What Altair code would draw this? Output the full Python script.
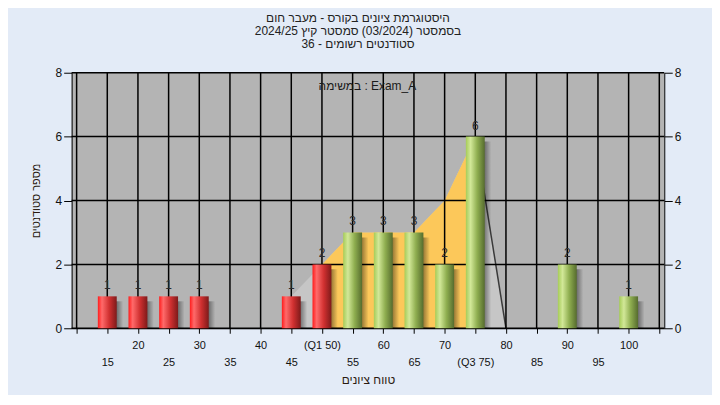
import altair as alt
import pandas as pd

# ---- data ----
grades = [15, 20, 25, 30, 35, 40, 45, 50, 55, 60, 65, 70, 75, 80, 85, 90, 95, 100]
counts = [1, 1, 1, 1, 0, 0, 1, 2, 3, 3, 3, 2, 6, 0, 0, 2, 0, 1]
tick_labels = ["15", "20", "25", "30", "35", "40", "45", "(Q1 50)", "55", "60",
               "65", "70", "(Q3 75)", "80", "85", "90", "95", "100"]
curve_x = [45, 50, 55, 60, 65, 70, 75, 80]
curve_y = [1, 2, 3, 3, 3, 4, 6, 0]
iqr_x = [50, 55, 60, 65, 70, 75]
iqr_y = [2, 3, 3, 3, 4, 6]
grid_x = [10, 15, 20, 25, 30, 35, 40, 45, 50, 55, 60, 65, 70, 75, 80, 85, 90, 95, 100, 105]
grid_y = [0, 2, 4, 6, 8]
q1, q3 = 50, 75

title_lines = ["היסטוגרמת ציונים בקורס - מעבר חום",
               "בסמסטר  (03/2024)  סמסטר קיץ 2024/25",
               "סטודנטים רשומים - 36"]
note_text = "במשימה : Exam_A"
x_title = "טווח ציונים"
y_title = "מספר סטודנטים"

FONT = "Liberation Sans, DejaVu Sans, sans-serif"

bars_df = pd.DataFrame({"grade": grades, "count": counts})
bars_df = bars_df[bars_df["count"] > 0].copy()
bars_df["grp"] = ["low" if g <= q1 else "high" for g in bars_df["grade"]]
bars_df["base"] = 0
curve_df = pd.DataFrame({"grade": curve_x, "count": curve_y})
iqr_df = pd.DataFrame({"grade": iqr_x, "count": iqr_y})
drop_df = curve_df[curve_df["grade"] >= q3]
gx_df = pd.DataFrame({"v": grid_x})
gy_df = pd.DataFrame({"v": grid_y})

# label expression
parts = [f"datum.value == {g} ? '{lab}'" for g, lab in zip(grades, tick_labels)]
label_expr = " : ".join(parts) + " : ''"
lower_row_test = " || ".join(f"datum.value == {g}" for g in grades[0::2])

xscale = alt.Scale(domain=[10, 105], nice=False, zero=False)
yscale = alt.Scale(domain=[0, 8], nice=False)

x_axis = alt.Axis(values=grid_x, labelExpr=label_expr, grid=False, tickSize=5,
                  tickColor="black", domainColor="black", labelFont=FONT,
                  labelFontSize=11, labelColor="#111",
                  labelPadding={"condition": {"test": lower_row_test, "value": 23},
                                "value": 6},
                  labelBaseline="top", labelFlush=False,
                  labelOverlap=False, title=x_title, titleFont=FONT,
                  titleFontSize=12, titleFontWeight="normal", titleColor="#2a1a10",
                  titlePadding=8)

y_left = alt.Axis(values=grid_y, grid=False, tickSize=8, tickColor="black",
                  domainColor="black", labelFont=FONT, labelFontSize=12,
                  labelColor="#111", labelPadding=2, title=y_title, titleFont=FONT,
                  titleFontSize=11, titleFontWeight="normal", titleColor="#2a1a10",
                  titlePadding=14)
y_right = alt.Axis(values=grid_y, grid=False, tickSize=8, tickColor="black",
                   domainColor="black", labelFont=FONT, labelFontSize=12,
                   labelColor="#111", labelPadding=2, orient="right", title=None)


def X(field):
    return alt.X(field, scale=xscale, axis=x_axis)


# areas
gray_area = alt.Chart(curve_df).mark_area(color="#c6c6c6", opacity=1).encode(
    x=X("grade:Q"),
    y=alt.Y("count:Q", scale=yscale, axis=y_right),
)
yellow_area = alt.Chart(iqr_df).mark_area(color="#fcc85a", opacity=1).encode(
    x=X("grade:Q"),
    y=alt.Y("count:Q", scale=yscale, axis=None),
)
drop_line = alt.Chart(drop_df).mark_line(color="#3a3a3a", strokeWidth=1.5).encode(
    x=X("grade:Q"),
    y=alt.Y("count:Q", scale=yscale, axis=None),
)

# grid lines
vgrid = alt.Chart(gx_df).mark_rule(color="black", strokeWidth=1.5).encode(
    x=X("v:Q"),
)
hgrid = alt.Chart(gy_df).mark_rule(color="black", strokeWidth=1.5).encode(
    y=alt.Y("v:Q", scale=yscale, axis=None),
)

red_grad = alt.Gradient(
    gradient="linear", x1=0, x2=1, y1=0, y2=0,
    stops=[alt.GradientStop(color="#ff1c1c", offset=0),
           alt.GradientStop(color="#ff6a6a", offset=0.22),
           alt.GradientStop(color="#d03030", offset=0.6),
           alt.GradientStop(color="#7e1a1a", offset=1)])
green_grad = alt.Gradient(
    gradient="linear", x1=0, x2=1, y1=0, y2=0,
    stops=[alt.GradientStop(color="#a6cc58", offset=0),
           alt.GradientStop(color="#d2e898", offset=0.25),
           alt.GradientStop(color="#8fae50", offset=0.6),
           alt.GradientStop(color="#566c2e", offset=1)])
shadow_grad = alt.Gradient(
    gradient="linear", x1=0, x2=1, y1=0, y2=0,
    stops=[alt.GradientStop(color="rgba(0,0,0,0.6)", offset=0.5),
           alt.GradientStop(color="rgba(0,0,0,0.0)", offset=1)])

shadow = alt.Chart(bars_df).mark_bar(size=20, fill=shadow_grad, xOffset=6, yOffset=5).encode(
    x=X("grade:Q"),
    y=alt.Y("count:Q", scale=yscale, axis=None),
    y2="base:Q",
)
red_bars = alt.Chart(bars_df).transform_filter("datum.grp == 'low'").mark_bar(
    size=19, fill=red_grad).encode(
    x=X("grade:Q"),
    y=alt.Y("count:Q", scale=yscale, axis=y_left),
)
green_bars = alt.Chart(bars_df).transform_filter("datum.grp == 'high'").mark_bar(
    size=19, fill=green_grad).encode(
    x=X("grade:Q"),
    y=alt.Y("count:Q", scale=yscale, axis=None),
)
value_labels = alt.Chart(bars_df).mark_text(
    baseline="bottom", dy=-4, font=FONT, fontSize=12, color="#2b2b2b").encode(
    x=X("grade:Q"),
    y=alt.Y("count:Q", scale=yscale, axis=None),
    text="count:Q",
)
note = alt.Chart(pd.DataFrame({"t": [note_text]})).mark_text(
    font=FONT, fontSize=12, color="#1a1a1a").encode(
    x=alt.datum(57.4, scale=xscale, axis=x_axis),
    y=alt.datum(7.57, scale=yscale, axis=None),
    text="t:N",
)

chart = alt.layer(
    gray_area, yellow_area, drop_line, vgrid, hgrid, shadow, red_bars, green_bars,
    value_labels, note,
).resolve_axis(y="independent").properties(
    width=596, height=257,
    title=alt.TitleParams(text=title_lines, font=FONT, fontSize=12, fontWeight="normal",
                          color="#222", anchor="middle", offset=16, lineHeight=13,
                          dx=-10),
    autosize=alt.AutoSizeParams(type="none"),
    padding={"left": 64, "top": 64, "right": 48, "bottom": 66},
).configure(background="#e3ebf7").configure_view(fill="#b4b4b4", stroke=None)

chart.save("out.html", embed_options={"renderer": "svg", "actions": False})
